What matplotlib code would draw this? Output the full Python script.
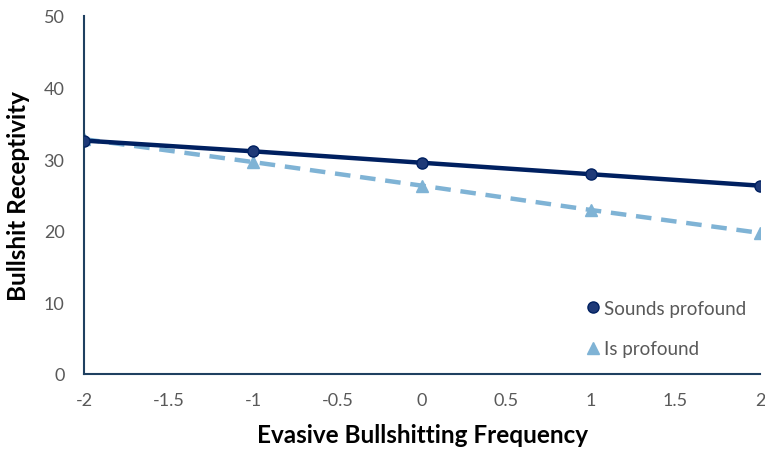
import matplotlib
matplotlib.use("Agg")
import matplotlib.pyplot as plt

x_vals = [-2, -1, 0, 1, 2]
sounds_profound = [32.6, 31.1, 29.5, 27.9, 26.3]
is_profound = [32.8, 29.6, 26.3, 22.9, 19.7]
x_ticks = [-2, -1.5, -1, -0.5, 0, 0.5, 1, 1.5, 2]
x_tick_labels = ["-2", "-1.5", "-1", "-0.5", "0", "0.5", "1", "1.5", "2"]
y_ticks = [0, 10, 20, 30, 40, 50]

plt.rcParams['font.family'] = ['Lato', 'DejaVu Sans']

fig = plt.figure(figsize=(7.65, 4.52), dpi=100)
ax = fig.add_axes([0.1098, 0.1704, 0.8837, 0.792])

dark = '#002060'
light = '#7FB3D5'
ax.plot(x_vals, sounds_profound, color=dark, lw=3.2, marker='o', ms=8,
        markerfacecolor='#1F3A78', markeredgecolor=dark, label='Sounds profound', zorder=3)
ax.plot(x_vals, is_profound, color=light, lw=3.2, ls=(0, (3.5, 2.2)), marker='^', ms=8,
        markerfacecolor=light, markeredgecolor=light, label='Is profound', zorder=2)

ax.set_xlim(-2, 2)
ax.set_ylim(0, 50)
ax.set_xticks(x_ticks)
ax.set_xticklabels(x_tick_labels)
ax.set_yticks(y_ticks)
ax.tick_params(axis='both', length=0, labelsize=13, labelcolor='#595959')
ax.tick_params(axis='x', pad=13)
ax.tick_params(axis='y', pad=14)

for s in ['top', 'right']:
    ax.spines[s].set_visible(False)
for s in ['left', 'bottom']:
    ax.spines[s].set_color('#1F4060')
    ax.spines[s].set_linewidth(1.5)

ax.set_xlabel('Evasive Bullshitting Frequency', fontsize=17.5, fontweight='bold', labelpad=11)
ax.set_ylabel('Bullshit Receptivity', fontsize=17.5, fontweight='bold', labelpad=10)

leg = ax.legend(loc='lower right', frameon=False, fontsize=13.5, labelcolor='#595959',
                handlelength=0.6, handletextpad=0.3, labelspacing=1.25,
                bbox_to_anchor=(1.005, 0.0))
for h in leg.legend_handles:
    h.set_linestyle('')

fig.savefig('out.png', dpi=100)
